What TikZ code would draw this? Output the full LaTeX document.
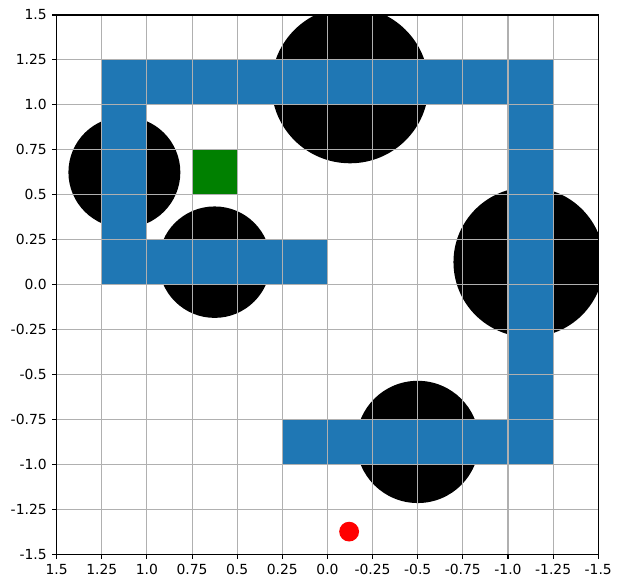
\documentclass[tikz,border=0pt]{standalone}
\usepackage{fontspec}
\setmainfont{DejaVu Sans}
\definecolor{wallblue}{HTML}{1F77B4}
\definecolor{gridgray}{HTML}{B0B0B0}
\definecolor{goalgreen}{HTML}{008000}
\tikzset{
  wall/.style={fill=wallblue},
  obstacle/.style={fill=black},
  gridline/.style={gridgray, line width=0.8pt},
  axisline/.style={black, line width=0.8pt},
  ticklabel/.style={font=\fontsize{10}{12}\selectfont, inner sep=0pt},
}
\begin{document}
\begin{tikzpicture}[x=-129.98pt, y=129.43pt]
\useasboundingbox (1.814,-1.6875) rectangle (-1.626,1.5834);
\coordinate (ll) at (1.5,-1.5);
\coordinate (ur) at (-1.5,1.5);
\begin{scope}
\clip (ll) rectangle (ur);
\fill[obstacle] (-0.125,1.11) circle[radius=0.435];
\fill[obstacle] (1.125,0.625) circle[radius=0.31];
\fill[obstacle] (0.625,0.125) circle[radius=0.31];
\fill[obstacle] (-1.115,0.125) circle[radius=0.417];
\fill[obstacle] (-0.5,-0.875) circle[radius=0.34];
\fill[wall] (1.25,1.0) rectangle (-1.25,1.25);
\fill[wall] (1.25,0) rectangle (1.0,1.0);
\fill[wall] (1.25,0) rectangle (0,0.25);
\fill[wall] (-1.0,-1.0) rectangle (-1.25,1.0);
\fill[wall] (0.25,-1.0) rectangle (-1.0,-0.75);
\filldraw[fill=goalgreen, draw=goalgreen!25, line width=0.8pt] (0.75,0.5) rectangle (0.5,0.75);
\fill[red] (-0.12,-1.374) circle[radius=0.055];
\end{scope}
\foreach \v in {-1.25,-1.0,-0.75,-0.5,-0.25,0,0.25,0.5,0.75,1.0,1.25} {
  \draw[gridline] (\v,-1.5) -- (\v,1.5);
  \draw[gridline] (1.5,\v) -- (-1.5,\v);
}
\draw[axisline] (ll) rectangle (ur);
\foreach \v/\t [count=\k] in {1.5/1.5,1.25/1.25,1.0/1.0,0.75/0.75,0.5/0.5,0.25/0.25,0/0.0,-0.25/-0.25,-0.5/-0.5,-0.75/-0.75,-1.0/-1.0,-1.25/-1.25,-1.5/-1.5} {
  \draw[axisline] (\v,-1.5) -- ++(0pt,-3.5pt);
  \node[ticklabel, anchor=north] (xt\k) at ([yshift=-7pt]\v,-1.5) {\t};
  \draw[axisline] (1.5,\v) -- ++(-3.5pt,0pt);
  \node[ticklabel, anchor=east] (yt\k) at ([xshift=-7pt]1.5,\v) {\t};
}
\end{tikzpicture}
\end{document}
